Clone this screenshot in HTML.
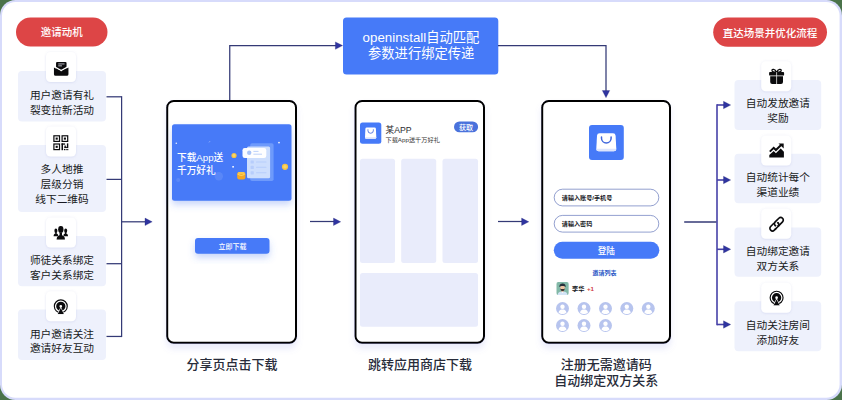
<!DOCTYPE html>
<html lang="zh"><head><meta charset="utf-8"><title>openinstall</title>
<style>
html,body{margin:0;padding:0;overflow:hidden;background:#4a734a;font-family:"Liberation Sans","Noto Sans CJK SC",sans-serif;}
svg{display:block}
svg text{font-family:"Liberation Sans","Noto Sans CJK SC",sans-serif;}
</style></head><body>
<svg width="842" height="400" viewBox="0 0 842 400">
<defs>
<filter id="ts" x="-30%" y="-30%" width="160%" height="160%"><feDropShadow dx="0" dy="0.5" stdDeviation="1.2" flood-color="#8a8fd0" flood-opacity="0.25"/></filter>
<filter id="ps" x="-10%" y="-5%" width="120%" height="112%"><feDropShadow dx="0" dy="5" stdDeviation="3" flood-color="#7a7fe0" flood-opacity="0.16"/></filter>
<filter id="bs" x="-20%" y="-30%" width="140%" height="190%"><feDropShadow dx="0" dy="4" stdDeviation="3.5" flood-color="#4474ee" flood-opacity="0.3"/></filter>
</defs>
<rect x="0" y="0" width="842" height="400" fill="#4a734a"/><rect x="0" y="0" width="842" height="400" rx="15.5" fill="#d7dbfb"/><rect x="2" y="2" width="837.6" height="395.7" rx="13.5" fill="#fff"/><rect x="16" y="17.5" width="91.5" height="29.0" rx="14.5" fill="#dd4546"/><text x="61.75" y="36.385" font-size="10.5" font-weight="500" text-anchor="middle" fill="#fff">邀请动机</text><rect x="18" y="71" width="88" height="50.5" rx="4" fill="#eef1fc"/><path d="M106.5 96.8H121.6" stroke="#343a76" stroke-width="1.25" fill="none"/><rect x="18" y="145" width="88" height="67" rx="4" fill="#eef1fc"/><path d="M106.5 179.4H121.6" stroke="#343a76" stroke-width="1.25" fill="none"/><rect x="18" y="236" width="88" height="50.19999999999999" rx="4" fill="#eef1fc"/><path d="M106.5 263.7H121.6" stroke="#343a76" stroke-width="1.25" fill="none"/><rect x="18" y="309.5" width="88" height="50.5" rx="4" fill="#eef1fc"/><path d="M106.5 336.45H121.6" stroke="#343a76" stroke-width="1.25" fill="none"/><rect x="46" y="52" width="30" height="30" rx="4.5" fill="#fff" filter="url(#ts)"/><text x="62" y="99.459" font-size="10.7" text-anchor="middle" fill="#181a22">用户邀请有礼</text><text x="62" y="114.059" font-size="10.7" text-anchor="middle" fill="#181a22">裂变拉新活动</text><g transform="translate(53.95 61.95)">
<rect x="2.1" y="0" width="10.5" height="9.5" rx="1.1" fill="#0b0b0d"/>
<path d="M4.3 2H10.6M4.3 3.9H8" stroke="#c9ccd6" stroke-width="0.9" fill="none"/>
<path d="M-0.3 4.5L7.25 8.6L14.8 4.5" stroke="#fff" stroke-width="1.4" fill="none"/>
<path d="M0 5.5L7.25 9.5L14.5 5.5V12.3A1.6 1.6 0 0 1 12.9 13.9H1.6A1.6 1.6 0 0 1 0 12.3Z" fill="#0b0b0d"/>
</g><rect x="46" y="126.5" width="30" height="30" rx="4.5" fill="#fff" filter="url(#ts)"/><text x="62" y="172.959" font-size="10.7" text-anchor="middle" fill="#181a22">多人地推</text><text x="62" y="187.959" font-size="10.7" text-anchor="middle" fill="#181a22">层级分销</text><text x="62" y="202.659" font-size="10.7" text-anchor="middle" fill="#181a22">线下二维码</text><g transform="translate(53.30 135.20)"><rect x="0.6" y="0.6" width="5.6" height="5.6" fill="none" stroke="#0b0b0d" stroke-width="1.2"/><rect x="2.35" y="2.35" width="2.1" height="2.1" fill="#0b0b0d"/><rect x="8.799999999999999" y="0.6" width="5.6" height="5.6" fill="none" stroke="#0b0b0d" stroke-width="1.2"/><rect x="10.549999999999999" y="2.35" width="2.1" height="2.1" fill="#0b0b0d"/><rect x="0.6" y="8.799999999999999" width="5.6" height="5.6" fill="none" stroke="#0b0b0d" stroke-width="1.2"/><rect x="2.35" y="10.549999999999999" width="2.1" height="2.1" fill="#0b0b0d"/><rect x="8.2" y="8.2" width="1.5" height="6.8" fill="#0b0b0d"/><rect x="8.2" y="8.2" width="3.6" height="1.3" fill="#0b0b0d"/><rect x="11.2" y="10.3" width="1.3" height="2.4" fill="#0b0b0d"/><rect x="11.2" y="11.6" width="2.4" height="1.2" fill="#0b0b0d"/><rect x="13.6" y="8.2" width="1.4" height="4.6" fill="#0b0b0d"/><rect x="10.6" y="13.7" width="1.2" height="1.3" fill="#0b0b0d"/><rect x="12.3" y="13.7" width="1.1" height="1.3" fill="#0b0b0d"/><rect x="13.9" y="13.7" width="1.1" height="1.3" fill="#0b0b0d"/></g><rect x="46" y="217.5" width="30" height="30" rx="4.5" fill="#fff" filter="url(#ts)"/><text x="62" y="263.959" font-size="10.7" text-anchor="middle" fill="#181a22">师徒关系绑定</text><text x="62" y="278.659" font-size="10.7" text-anchor="middle" fill="#181a22">客户关系绑定</text><g transform="translate(53.60 226.00)" fill="#0b0b0d">
<ellipse cx="2.3" cy="4.7" rx="1.5" ry="2.2"/>
<path d="M0 10.2C0 8.3 .9 7.8 1.7 7.5V6.2h1.3v1.3c.8.3 1.7.6 1.7 2.7Z"/>
<ellipse cx="12.1" cy="4.7" rx="1.5" ry="2.2"/>
<path d="M14.4 10.2C14.4 8.3 13.5 7.8 12.7 7.5V6.2h-1.3v1.3c-.8.3-1.7.6-1.7 2.7Z"/>
<g stroke="#fff" stroke-width="0.9"><ellipse cx="7.2" cy="3.4" rx="2.6" ry="3.4"/>
<path d="M3.1 13.4C3.1 10.6 4.4 10 6 9.3V6.5h2.4v2.8c1.6.7 2.9 1.3 2.9 4.1Z"/></g>
<ellipse cx="7.2" cy="3.4" rx="2.6" ry="3.4"/>
<path d="M3.1 13.4C3.1 10.6 4.4 10 6 9.3V6.5h2.4v2.8c1.6.7 2.9 1.3 2.9 4.1Z"/>
</g><rect x="46" y="291.3" width="30" height="30" rx="4.5" fill="#fff" filter="url(#ts)"/><text x="62" y="337.759" font-size="10.7" text-anchor="middle" fill="#181a22">用户邀请关注</text><text x="62" y="352.459" font-size="10.7" text-anchor="middle" fill="#181a22">邀请好友互动</text><g transform="translate(60.80 306.30)">
<circle r="6.45" fill="none" stroke="#0b0b0d" stroke-width="1.15"/>
<circle r="3" fill="none" stroke="#0b0b0d" stroke-width="3.3"/>
<path d="M0 0.3L3.9 8.6H-3.9Z" fill="#fff"/>
<path d="M0 1.7L3.15 7.9H-3.15Z" fill="#0b0b0d"/>
<rect x="-6.5" y="7.9" width="13" height="2" fill="#fff"/>
</g><path d="M121.6 96.17999999999999V337.07" stroke="#343a76" stroke-width="1.25" fill="none"/><path d="M121.6 221.8H146.5" stroke="#343a76" stroke-width="1.25" fill="none"/><path d="M152.2 221.8L145.0 218.10000000000002V225.5Z" fill="#2f34a0" stroke="#262a78" stroke-width="0.3" stroke-linejoin="round"/><rect x="713.2" y="17.5" width="113.79999999999995" height="29.299999999999997" rx="14.649999999999999" fill="#dd4546"/><text x="770.1" y="36.535" font-size="10.5" font-weight="500" text-anchor="middle" fill="#fff">直达场景并优化流程</text><rect x="734.5" y="80" width="86.70000000000005" height="50" rx="4" fill="#eef1fc"/><rect x="734.5" y="153.8" width="86.70000000000005" height="49.5" rx="4" fill="#eef1fc"/><rect x="734.5" y="227.5" width="86.70000000000005" height="49.30000000000001" rx="4" fill="#eef1fc"/><rect x="734.5" y="301.3" width="86.70000000000005" height="50.0" rx="4" fill="#eef1fc"/><rect x="761.2" y="61.2" width="30" height="30" rx="4.5" fill="#fff" filter="url(#ts)"/><text x="777.9" y="107.459" font-size="10.7" text-anchor="middle" fill="#181a22">自动发放邀请</text><text x="777.9" y="122.459" font-size="10.7" text-anchor="middle" fill="#181a22">奖励</text><g transform="translate(769.10 68.80)">
<path d="M7.5 3.6C6 -0.4 2.6 0 2.9 1.9C3.1 3.4 5.4 3.6 7.5 3.6C9.6 3.6 11.9 3.4 12.1 1.9C12.4 0 9 -0.4 7.5 3.6Z" fill="none" stroke="#0b0b0d" stroke-width="1.25"/>
<rect x="0" y="3.3" width="15" height="3.5" rx="0.9" fill="#0b0b0d"/>
<path d="M1.1 7.5H13.9V13.2A2 2 0 0 1 11.9 15.2H3.1A2 2 0 0 1 1.1 13.2Z" fill="#0b0b0d"/>
<path d="M7.5 3.3V15.2" stroke="#fff" stroke-width="0.7"/>
</g><path d="M717 105H725" stroke="#4641a8" stroke-width="1.6" fill="none"/><path d="M730.7 105L723.5 101.3V108.7Z" fill="#2f34a0" stroke="#262a78" stroke-width="0.3" stroke-linejoin="round"/><rect x="761.2" y="135.5" width="30" height="30" rx="4.5" fill="#fff" filter="url(#ts)"/><text x="777.9" y="181.459" font-size="10.7" text-anchor="middle" fill="#181a22">自动统计每个</text><text x="777.9" y="196.459" font-size="10.7" text-anchor="middle" fill="#181a22">渠道业绩</text><g transform="translate(769.30 143.40)">
<path d="M0 14V11.6L4.4 7.6L6.6 9.8L11.4 5.2L14.6 8.4V14Z" fill="#0b0b0d"/>
<path d="M0.5 8.2L4.4 4.4L6.6 6.6L11.8 1.6" fill="none" stroke="#0b0b0d" stroke-width="2"/>
<path d="M9.2 0H14.4V5.2Z" fill="#0b0b0d"/>
</g><path d="M717 180H725" stroke="#4641a8" stroke-width="1.6" fill="none"/><path d="M730.7 180L723.5 176.3V183.7Z" fill="#2f34a0" stroke="#262a78" stroke-width="0.3" stroke-linejoin="round"/><rect x="761.2" y="208.8" width="30" height="30" rx="4.5" fill="#fff" filter="url(#ts)"/><text x="777.9" y="255.25900000000001" font-size="10.7" text-anchor="middle" fill="#181a22">自动绑定邀请</text><text x="777.9" y="270.459" font-size="10.7" text-anchor="middle" fill="#181a22">双方关系</text><g transform="translate(776.60 224.20) rotate(-45)" fill="none" stroke="#0b0b0d" stroke-width="1.65">
<rect x="-8.4" y="-2.6" width="10.4" height="5.2" rx="2.6"/>
<path d="M-1 -2.6H5.8A2.6 2.6 0 0 1 5.8 2.6H1" stroke="#fff" stroke-width="3.2"/>
<rect x="-2" y="-2.6" width="10.4" height="5.2" rx="2.6"/>
<path d="M-3.4 2.6H-0.6" stroke="#fff" stroke-width="3.2"/>
<path d="M-5 2.6H-0.6A2.6 2.6 0 0 0 2 0"/>
</g><path d="M717 249.3H725" stroke="#4641a8" stroke-width="1.6" fill="none"/><path d="M730.7 249.3L723.5 245.60000000000002V253.0Z" fill="#2f34a0" stroke="#262a78" stroke-width="0.3" stroke-linejoin="round"/><rect x="761.2" y="282.7" width="30" height="30" rx="4.5" fill="#fff" filter="url(#ts)"/><text x="777.9" y="328.959" font-size="10.7" text-anchor="middle" fill="#181a22">自动关注房间</text><text x="777.9" y="343.659" font-size="10.7" text-anchor="middle" fill="#181a22">添加好友</text><g transform="translate(776.60 297.70)">
<circle r="6.45" fill="none" stroke="#0b0b0d" stroke-width="1.15"/>
<circle r="3" fill="none" stroke="#0b0b0d" stroke-width="3.3"/>
<path d="M0 0.3L3.9 8.6H-3.9Z" fill="#fff"/>
<path d="M0 1.7L3.15 7.9H-3.15Z" fill="#0b0b0d"/>
<rect x="-6.5" y="7.9" width="13" height="2" fill="#fff"/>
</g><path d="M717 324.5H725" stroke="#4641a8" stroke-width="1.6" fill="none"/><path d="M730.7 324.5L723.5 320.8V328.2Z" fill="#2f34a0" stroke="#262a78" stroke-width="0.3" stroke-linejoin="round"/><path d="M717 104.2V325.3" stroke="#4641a8" stroke-width="1.6" fill="none"/><path d="M684.2 222H716.4" stroke="#343a76" stroke-width="1.5" fill="none"/><rect x="343" y="17.5" width="155.3" height="57" rx="3.5" fill="#467af8"/><text x="421" y="41.889" font-size="13.3" text-anchor="middle" fill="#fff">openinstall自动匹配</text><text x="421.2" y="58.421" font-size="13.3" text-anchor="middle" fill="#fff">参数进行绑定传递</text><path d="M229.75 100V45.5H337" stroke="#343a76" stroke-width="1.25" fill="none"/><path d="M342.6 45.6L335.4 41.9V49.3Z" fill="#2f34a0" stroke="#262a78" stroke-width="0.3" stroke-linejoin="round"/><path d="M498 45.5H606V92" stroke="#343a76" stroke-width="1.25" fill="none"/><path d="M606 97.7L602.3 90.5H609.7Z" fill="#2f34a0" stroke="#262a78" stroke-width="0.3" stroke-linejoin="round"/><rect x="167.2" y="101" width="128.8" height="241.7" rx="6.5" fill="#fff" stroke="#000" stroke-width="2" filter="url(#ps)"/><rect x="172" y="124.2" width="119.5" height="76.5" rx="2.5" fill="#467af8" filter="url(#bs)"/><g>
<circle cx="218.8" cy="176.3" r="4.2" fill="#fff" opacity="0.10"/>
<circle cx="178.2" cy="180" r="2" fill="#fff" opacity="0.10"/>
<circle cx="176.3" cy="143.3" r="0.8" fill="#fff" opacity="0.9"/>
<circle cx="279" cy="142.6" r="0.9" fill="#fff" opacity="0.9"/>
<rect x="232.3" y="166" width="1.6" height="1.6" fill="#fff" opacity="0.95"/>
<path d="M209 142.4L210 141.2" stroke="#fff" stroke-width="0.5" opacity="0.8"/>
<rect x="250.2" y="143.2" width="23.4" height="37.8" rx="1.8" fill="#6e9afb"/>
<rect x="247" y="146.6" width="23.1" height="31.6" rx="1.5" fill="#cddefd"/>
<g fill="#b7cdfb">
<rect x="250.6" y="160.4" width="3.2" height="3.2" rx="0.6"/><rect x="256" y="161.4" width="10.5" height="1" rx="0.5"/>
<rect x="250.6" y="165.8" width="3.2" height="3.2" rx="0.6"/><rect x="256" y="166.8" width="10.5" height="1" rx="0.5"/>
<rect x="250.6" y="171.2" width="3.2" height="3.2" rx="0.6"/><rect x="256" y="172.2" width="10.5" height="1" rx="0.5"/>
</g>
<rect x="242.5" y="148" width="23.8" height="10" rx="2.2" fill="#fff" opacity="0.97"/>
<circle cx="249.2" cy="152.8" r="2.2" fill="#a9c4f8"/>
<path d="M253.4 151.4H258.5M253.4 154.2H262" stroke="#b7cdf9" stroke-width="0.9" fill="none"/>
<circle cx="234" cy="155.5" r="2.6" fill="#f6c344"/><circle cx="234" cy="155.5" r="1.4" fill="#f9d66b"/>
<circle cx="285" cy="166.8" r="3.1" fill="#f6c344"/><circle cx="285" cy="166.8" r="1.7" fill="#f9d66b"/>
<rect x="237.2" y="172" width="8.2" height="7.4" rx="2.2" fill="#f5a623"/>
<path d="M237.6 173.6Q241.3 177.4 245 173.6" stroke="#fbd15a" stroke-width="1.2" fill="none"/>
<rect x="238" y="172" width="6.6" height="2.2" rx="1.1" fill="#f8c64b"/>
</g><text x="177" y="160.589" font-size="9.7" font-weight="500" text-anchor="start" fill="#fff">下载App送</text><text x="177" y="173.589" font-size="9.7" font-weight="500" text-anchor="start" fill="#fff">千万好礼</text><rect x="195" y="238" width="74.5" height="15.8" rx="3" fill="#467af8" filter="url(#bs)"/><text x="232.4" y="248.59" font-size="7" font-weight="500" text-anchor="middle" fill="#fff">立即下载</text><text x="232" y="368.61" font-size="13" font-weight="500" text-anchor="middle" fill="#282c3a">分享页点击下载</text><rect x="355.5" y="101" width="128.5" height="241.7" rx="6.5" fill="#fff" stroke="#000" stroke-width="2" filter="url(#ps)"/><rect x="360" y="122.5" width="21.3" height="21.3" rx="2.5" fill="#467af8"/><g transform="translate(365.00 127.50)">
<path d="M1.86 0H9.44Q10.79 0 10.90 1.36L11.30 9.94Q11.30 11.30 9.94 11.30H1.36Q0 11.30 0 9.94L0.40 1.36Q0.51 0 1.86 0Z" fill="#fff"/>
<path d="M0.09 9.72H11.21L11.30 9.94Q11.30 11.30 9.94 11.30H1.36Q0 11.30 0 9.94Z" fill="#dde5fc"/>
<path d="M2.94 2.26V3.05A2.71 2.71 0 0 0 8.36 3.05V2.26" fill="none" stroke="#3f66dc" stroke-width="0.85" stroke-linecap="round"/>
</g><text x="385.5" y="132.819" font-size="8.7" text-anchor="start" fill="#2c2c30">某APP</text><text x="385.5" y="141.794" font-size="6.2" text-anchor="start" fill="#333">下载App送千万好礼</text><rect x="454" y="121.5" width="24.1" height="10.8" rx="5.4" fill="#4a72dc"/><text x="466.1" y="129.627" font-size="7.1" font-weight="500" text-anchor="middle" fill="#fff">获取</text><rect x="360" y="158.8" width="35" height="104.19999999999999" rx="2.5" fill="#e9ecfb"/><rect x="401.2" y="158.8" width="35.0" height="104.19999999999999" rx="2.5" fill="#e9ecfb"/><rect x="442.5" y="158.8" width="35.5" height="104.19999999999999" rx="2.5" fill="#e9ecfb"/><rect x="360" y="273" width="118" height="53.8" rx="2.5" fill="#e9ecfb"/><text x="420" y="369.11" font-size="13" font-weight="500" text-anchor="middle" fill="#282c3a">跳转应用商店下载</text><path d="M310 221.5H335" stroke="#343a76" stroke-width="1.25" fill="none"/><path d="M340.7 221.8L333.5 218.10000000000002V225.5Z" fill="#2f34a0" stroke="#262a78" stroke-width="0.3" stroke-linejoin="round"/><rect x="542.2" y="101" width="127.79999999999995" height="241.7" rx="6.5" fill="#fff" stroke="#000" stroke-width="2" filter="url(#ps)"/><rect x="589" y="125" width="34.8" height="35" rx="3" fill="#467af8"/><g transform="translate(596.30 133.30)">
<path d="M3.30 0H16.70Q19.10 0 19.30 2.40L20.00 15.60Q20.00 18.00 17.60 18.00H2.40Q0 18.00 0 15.60L0.70 2.40Q0.90 0 3.30 0Z" fill="#fff"/>
<path d="M0.16 15.48H19.84L20.00 15.60Q20.00 18.00 17.60 18.00H2.40Q0 18.00 0 15.60Z" fill="#dde5fc"/>
<path d="M5.20 3.60V4.86A4.80 4.80 0 0 0 14.80 4.86V3.60" fill="none" stroke="#3f66dc" stroke-width="1.50" stroke-linecap="round"/>
</g><rect x="554.2" y="189.20000000000002" width="104.6" height="16.7" rx="8.35" fill="#fff" stroke="#4a5fae" stroke-width="0.6"/><text x="561.8" y="199.80700000000002" font-size="6.1" font-weight="bold" text-anchor="start" fill="#16181d">请输入账号/手机号</text><rect x="554.2" y="215.4" width="104.6" height="16.7" rx="8.35" fill="#fff" stroke="#4a5fae" stroke-width="0.6"/><text x="561.8" y="226.007" font-size="6.1" font-weight="bold" text-anchor="start" fill="#16181d">请输入密码</text><rect x="553.8" y="241.8" width="105.5" height="17" rx="8.5" fill="#467af8"/><text x="606.3" y="253.682" font-size="8.6" font-weight="500" text-anchor="middle" fill="#fff">登陆</text><text x="604.4" y="274.72" font-size="6" font-weight="bold" text-anchor="middle" fill="#2a58c6">邀请列表</text><g transform="translate(556.30 282.00)">
<clipPath id="avc"><rect x="0" y="0" width="12.5" height="13" rx="2"/></clipPath>
<g clip-path="url(#avc)">
<rect width="12.5" height="13" fill="#82b8a7"/>
<path d="M1.4 13C1.6 10.2 3.8 9.6 6.25 9.6C8.7 9.6 10.9 10.2 11.1 13Z" fill="#d3e4f6"/>
<rect x="5.25" y="7.8" width="2" height="2.2" fill="#d9a98a"/>
<ellipse cx="6.25" cy="5.8" rx="2.3" ry="2.7" fill="#efc4a4"/>
<path d="M3.95 6.2C4.05 8.4 5.25 9 6.25 9C7.25 9 8.45 8.4 8.55 6.2C7.65 7.2 7.05 7 6.25 7C5.45 7 4.85 7.2 3.95 6.2Z" fill="#3a3534"/>
<path d="M3.05 5.2C3.05 2 4.85 1.5 6.25 1.5C7.65 1.5 9.45 2 9.45 5.2C8.45 4.4 7.65 4.1 6.25 4.1C4.85 4.1 4.05 4.4 3.05 5.2Z" fill="#27303b"/>
<path d="M5.45 9.7L6.25 11.2L7.05 9.7Z" fill="#fff"/>
</g></g><g transform="translate(562.50 308.50)">
<circle r="6.5" fill="#b7c4ee"/>
<circle cx="0" cy="-1.7" r="2.2" fill="#fff"/>
<path d="M-4 3.9C-3.4 1.2 -1.6 0.9 0 0.9C1.6 0.9 3.4 1.2 4 3.9C2.8 5.2 1.2 5.6 0 5.6C-1.2 5.6 -2.8 5.2 -4 3.9Z" fill="#fff"/>
</g><g transform="translate(584.00 308.50)">
<circle r="6.5" fill="#b7c4ee"/>
<circle cx="0" cy="-1.7" r="2.2" fill="#fff"/>
<path d="M-4 3.9C-3.4 1.2 -1.6 0.9 0 0.9C1.6 0.9 3.4 1.2 4 3.9C2.8 5.2 1.2 5.6 0 5.6C-1.2 5.6 -2.8 5.2 -4 3.9Z" fill="#fff"/>
</g><g transform="translate(605.50 308.50)">
<circle r="6.5" fill="#b7c4ee"/>
<circle cx="0" cy="-1.7" r="2.2" fill="#fff"/>
<path d="M-4 3.9C-3.4 1.2 -1.6 0.9 0 0.9C1.6 0.9 3.4 1.2 4 3.9C2.8 5.2 1.2 5.6 0 5.6C-1.2 5.6 -2.8 5.2 -4 3.9Z" fill="#fff"/>
</g><g transform="translate(626.80 308.50)">
<circle r="6.5" fill="#b7c4ee"/>
<circle cx="0" cy="-1.7" r="2.2" fill="#fff"/>
<path d="M-4 3.9C-3.4 1.2 -1.6 0.9 0 0.9C1.6 0.9 3.4 1.2 4 3.9C2.8 5.2 1.2 5.6 0 5.6C-1.2 5.6 -2.8 5.2 -4 3.9Z" fill="#fff"/>
</g><g transform="translate(648.30 308.50)">
<circle r="6.5" fill="#b7c4ee"/>
<circle cx="0" cy="-1.7" r="2.2" fill="#fff"/>
<path d="M-4 3.9C-3.4 1.2 -1.6 0.9 0 0.9C1.6 0.9 3.4 1.2 4 3.9C2.8 5.2 1.2 5.6 0 5.6C-1.2 5.6 -2.8 5.2 -4 3.9Z" fill="#fff"/>
</g><g transform="translate(562.50 325.50)">
<circle r="6.5" fill="#b7c4ee"/>
<circle cx="0" cy="-1.7" r="2.2" fill="#fff"/>
<path d="M-4 3.9C-3.4 1.2 -1.6 0.9 0 0.9C1.6 0.9 3.4 1.2 4 3.9C2.8 5.2 1.2 5.6 0 5.6C-1.2 5.6 -2.8 5.2 -4 3.9Z" fill="#fff"/>
</g><g transform="translate(584.00 325.50)">
<circle r="6.5" fill="#b7c4ee"/>
<circle cx="0" cy="-1.7" r="2.2" fill="#fff"/>
<path d="M-4 3.9C-3.4 1.2 -1.6 0.9 0 0.9C1.6 0.9 3.4 1.2 4 3.9C2.8 5.2 1.2 5.6 0 5.6C-1.2 5.6 -2.8 5.2 -4 3.9Z" fill="#fff"/>
</g><g transform="translate(605.50 325.50)">
<circle r="6.5" fill="#b7c4ee"/>
<circle cx="0" cy="-1.7" r="2.2" fill="#fff"/>
<path d="M-4 3.9C-3.4 1.2 -1.6 0.9 0 0.9C1.6 0.9 3.4 1.2 4 3.9C2.8 5.2 1.2 5.6 0 5.6C-1.2 5.6 -2.8 5.2 -4 3.9Z" fill="#fff"/>
</g><text x="572" y="290.794" font-size="6.2" font-weight="bold" text-anchor="start" fill="#15161a">李华</text><text x="587" y="290.794" font-size="6.2" font-weight="bold" text-anchor="start" fill="#cf3a3e">+1</text><text x="606.25" y="369.21" font-size="13" font-weight="500" text-anchor="middle" fill="#282c3a">注册无需邀请码</text><text x="606.25" y="385.41" font-size="13" font-weight="500" text-anchor="middle" fill="#282c3a">自动绑定双方关系</text><path d="M498 221.5H523.1" stroke="#343a76" stroke-width="1.25" fill="none"/><path d="M528.8000000000001 221.8L521.6 218.10000000000002V225.5Z" fill="#2f34a0" stroke="#262a78" stroke-width="0.3" stroke-linejoin="round"/>
</svg>
</body></html>
